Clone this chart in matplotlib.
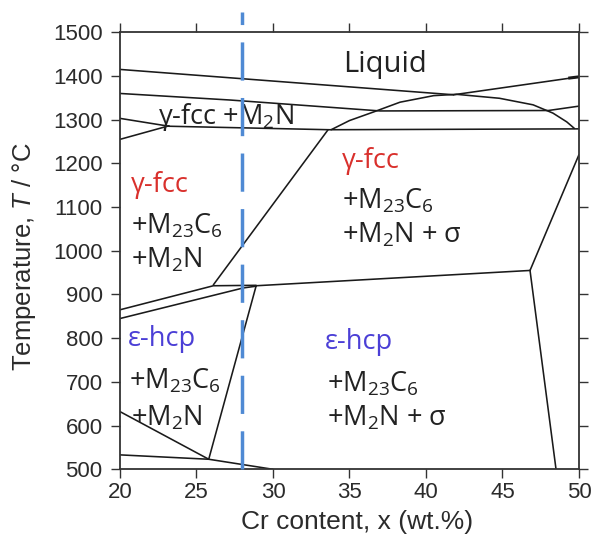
import matplotlib
matplotlib.use("Agg")
import matplotlib.pyplot as plt

plt.rcParams['font.family'] = ['Liberation Sans', 'DejaVu Sans']
plt.rcParams['mathtext.fontset'] = 'custom'
plt.rcParams['mathtext.rm'] = 'Open Sans'
plt.rcParams['mathtext.it'] = 'Liberation Sans:italic'

# ---- axis ranges / ticks ----
x_ticks = [20, 25, 30, 35, 40, 45, 50]
y_ticks = [500, 600, 700, 800, 900, 1000, 1100, 1200, 1300, 1400, 1500]

# ---- phase boundaries (Cr wt.%, T in degC) ----
liq_left_x = [20.0, 41.8]
liq_left_y = [1415, 1357]
liq_right_x = [41.8, 50.0]
liq_right_y = [1357, 1398]
upper_m2n_x = [20.0, 27.2, 37.0, 48.0, 50.0]
upper_m2n_y = [1360, 1345, 1320, 1321, 1331]
lower_a_x = [20.0, 23.2]
lower_a_y = [1303, 1285]
lower_b_x = [20.0, 23.2]
lower_b_y = [1255, 1286]
horiz_x = [23.2, 33.7, 50.0]
horiz_y = [1285, 1277, 1279]
dome_x = [33.8, 35.0, 36.6, 38.3, 40.5, 42.0, 44.8, 47.0, 48.3, 49.2, 49.7]
dome_y = [1277, 1298, 1318, 1340, 1355, 1358, 1349, 1334, 1315, 1295, 1280]
diag_x = [26.1, 33.6]
diag_y = [922, 1277]
left_up_x = [20.0, 26.1, 28.9]
left_up_y = [865, 920, 921]
left_lo_x = [20.0, 28.06, 28.9]
left_lo_y = [845, 915, 919]
eps_top_x = [28.9, 46.8]
eps_top_y = [920, 955]
right_up_x = [46.8, 50.0]
right_up_y = [955, 1220]
right_dn_x = [46.8, 48.5]
right_dn_y = [955, 500]
eps_left_x = [28.9, 25.8]
eps_left_y = [920, 523]
low_diag_x = [20.0, 25.8]
low_diag_y = [632, 523]
bottom_x = [20.0, 25.8, 30.0]
bottom_y = [533, 523, 500]

boundaries = [
    (liq_left_x, liq_left_y), (liq_right_x, liq_right_y),
    (upper_m2n_x, upper_m2n_y), (lower_a_x, lower_a_y), (lower_b_x, lower_b_y),
    (horiz_x, horiz_y), (dome_x, dome_y), (diag_x, diag_y),
    (left_up_x, left_up_y), (left_lo_x, left_lo_y), (eps_top_x, eps_top_y),
    (right_up_x, right_up_y), (right_dn_x, right_dn_y), (eps_left_x, eps_left_y),
    (low_diag_x, low_diag_y), (bottom_x, bottom_y),
]

# composition marker line
alloy_x = 28.0
alloy_y = [500, 1546]

fig = plt.figure(figsize=(5.92, 5.38), dpi=100)
ax = fig.add_axes([0.2027, 0.1277, 0.7753, 0.8123])

for bx, by in boundaries:
    ax.plot(bx, by, color='#1a1a1a', lw=1.15, solid_capstyle='round')

# small end mark where the liquidus meets the right axis
ax.plot([49.3, 50.0], [1395, 1398], color='#1a1a1a', lw=2.2, solid_capstyle='butt')

ax.plot([alloy_x, alloy_x], alloy_y, color='#4f8ad4', lw=2.5,
        linestyle=(0, (11, 5)), clip_on=False, zorder=5)

ax.set_xlim(20, 50)
ax.set_ylim(500, 1500)
ax.set_xticks(x_ticks)
ax.set_yticks(y_ticks)
ax.tick_params(axis='both', which='major', direction='out', length=6.5,
               width=1.0, color='#333333', labelsize=16, labelcolor='#2b2b2b',
               top=True, right=True)
ax.tick_params(axis='x', pad=2.5)
ax.tick_params(axis='y', pad=6)
for s in ax.spines.values():
    s.set_linewidth(1.3)
    s.set_color('#333333')

ax.set_xlabel('Cr content, x (wt.%)', fontsize=19, color='#2b2b2b')
ax.xaxis.set_label_coords(0.517, -0.093)
ax.xaxis.label.set_va('top')
ax.set_ylabel('Temperature, $T$ / °C', fontsize=18.5, color='#2b2b2b')
ax.yaxis.set_label_coords(-0.178, 0.487)

lab = dict(family=['Open Sans', 'DejaVu Sans'], fontsize=19.5, va='baseline', ha='left')
red = '#d9302c'
blue = '#4b3fd6'
dark = '#222222'

ax.text(34.6, 1408, 'Liquid', color=dark, **{**lab, 'fontsize': 21})
ax.text(22.5, 1290, r'γ-fcc +M$_2$N', color=dark, **lab)

ax.text(20.72, 1135, 'γ-fcc', color=red, **lab)
ax.text(20.72, 1040, r'+M$_{23}$C$_6$', color=dark, **lab)
ax.text(20.72, 962, r'+M$_2$N', color=dark, **lab)

ax.text(34.5, 1189, 'γ-fcc', color=red, **lab)
ax.text(34.5, 1097, r'+M$_{23}$C$_6$', color=dark, **lab)
ax.text(34.5, 1019, r'+M$_2$N + σ', color=dark, **lab)

ax.text(20.5, 782, 'ε-hcp', color=blue, **lab)
ax.text(20.6, 685, r'+M$_{23}$C$_6$', color=dark, **lab)
ax.text(20.7, 601, r'+M$_2$N', color=dark, **lab)

ax.text(33.4, 775, 'ε-hcp', color=blue, **lab)
ax.text(33.5, 679, r'+M$_{23}$C$_6$', color=dark, **lab)
ax.text(33.5, 601, r'+M$_2$N + σ', color=dark, **lab)

fig.savefig('out.png', dpi=100)
